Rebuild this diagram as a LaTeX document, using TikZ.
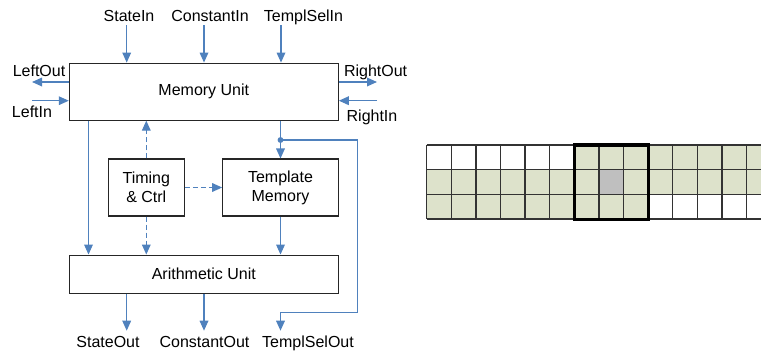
\documentclass[tikz,border=0pt]{standalone}
\usepackage{fontspec}
\setmainfont{Liberation Sans}
\usetikzlibrary{arrows.meta}

\definecolor{linkblue}{RGB}{79,129,189}
\definecolor{cellgreen}{RGB}{221,226,203}
\definecolor{cellgray}{RGB}{191,191,191}

\tikzset{
  unit/.style={draw=black!85, line width=0.8pt, inner sep=0pt},
  port/.style={anchor=base, inner sep=0pt},
  arr/.style={linkblue, line width=0.9pt, -{Triangle[length=7.5pt,width=6.5pt]}},
  dasharr/.style={arr, dash pattern=on 3.75pt off 2.25pt},
  gridline/.style={black!80, line width=1pt}
}

\begin{document}
\begin{tikzpicture}[x=0.75pt,y=-0.75pt,font=\fontsize{12}{14.25}\selectfont]
\useasboundingbox (0,0) rectangle (761,354);

% the four blocks
\node[unit, minimum width=201.75pt, minimum height=42.75pt] (mem) at (203.8,91.6) {Memory Unit};
\node[unit, minimum width=57pt, minimum height=42.75pt, align=center] (ctrl) at (146.3,187.5) {Timing\\\& Ctrl};
\node[unit, minimum width=86.7pt, minimum height=42.75pt, align=center] (tmem) at (280.5,187.5) {Template\\Memory};
\node[unit, minimum width=201.75pt, minimum height=28.7pt] (alu) at (203.8,274.2) {Arithmetic Unit};

% port labels
\foreach \name/\txt/\x/\y in {
  sin/StateIn/129/21.7,
  cin/ConstantIn/210/21.7,
  tin/TemplSelIn/303.5/21.7,
  lout/LeftOut/39/76,
  lin/LeftIn/32/117.7,
  rout/RightOut/375.6/76,
  rin/RightIn/372/121.7,
  sout/StateOut/108/347.7,
  cout/ConstantOut/204.5/347.7,
  tout/TemplSelOut/308/347.7} {
  \node[port] (\name) at (\x,\y) {\txt};
}

% free ends of the port arrows
\coordinate (sinc) at (126.7,25);
\coordinate (cinc) at (204,25);
\coordinate (tinc) at (281,25);
\coordinate (loutc) at (32,82);
\coordinate (linc) at (32,100.7);
\coordinate (routc) at (377,82);
\coordinate (rinc) at (377,100.7);
\coordinate (soutc) at (126.7,330.7);
\coordinate (coutc) at (204,330.7);
\coordinate (toutc) at (280.5,330.7);

% inputs and outputs of the memory unit
\foreach \c in {sinc,cinc,tinc} {
  \draw[arr] (\c) -- (\c |- mem.north);
}
\draw[arr] (mem.west |- loutc) -- (loutc);
\draw[arr] (linc) -- (mem.west |- linc);
\draw[arr] (mem.east |- routc) -- (routc);
\draw[arr] (rinc) -- (mem.east |- rinc);

% inner connections
\draw[arr] ([xshift=14.8pt]mem.south west) -- ([xshift=14.8pt]alu.north west);
\draw[dasharr] (ctrl.north) -- (ctrl.north |- mem.south);
\draw[dasharr] (ctrl.east) -- (tmem.west);
\draw[dasharr] (ctrl.south) -- (ctrl.south |- alu.north);
\draw[arr] (tmem.north |- mem.south) -- (tmem.north);
\draw[arr] (tmem.south) -- (tmem.south |- alu.north);

% template select feedback
\coordinate (tap) at (280.5,140);
\coordinate (fbtop) at (357.7,140);
\coordinate (fbbot) at (357.7,312.7);
\fill[linkblue] (tap) circle (2.2pt);
\draw[arr] (tap) -- (fbtop) -- (fbbot) -- (toutc |- fbbot) -- (toutc);

% outputs of the arithmetic unit
\foreach \c in {soutc,coutc} {
  \draw[arr] (alu.south -| \c) -- (\c);
}

% cell grid on the right
\begin{scope}
  \clip (0,0) rectangle (761,354);
  \foreach \c in {7,...,14} {
    \fill[cellgreen] ({426.7+(\c-1)*24.6},145) rectangle ++(24.6,24.7);
  }
  \foreach \c in {1,...,14} {
    \fill[cellgreen] ({426.7+(\c-1)*24.6},169.7) rectangle ++(24.6,24.7);
  }
  \fill[cellgray] ({426.7+7*24.6},169.7) rectangle ++(24.6,24.7);
  \foreach \c in {1,...,9} {
    \fill[cellgreen] ({426.7+(\c-1)*24.6},194.4) rectangle ++(24.6,24.7);
  }
  \foreach \c in {0,...,14} {
    \draw[gridline] ({426.7+\c*24.6},145) -- ++(0,74.1);
  }
  \foreach \r in {0,...,3} {
    \draw[gridline] (426.7,{145+\r*24.7}) -- (775,{145+\r*24.7});
  }
  \draw[line width=2.3pt] (574.3,145) rectangle (648.1,219.1);
\end{scope}

\end{tikzpicture}
\end{document}
